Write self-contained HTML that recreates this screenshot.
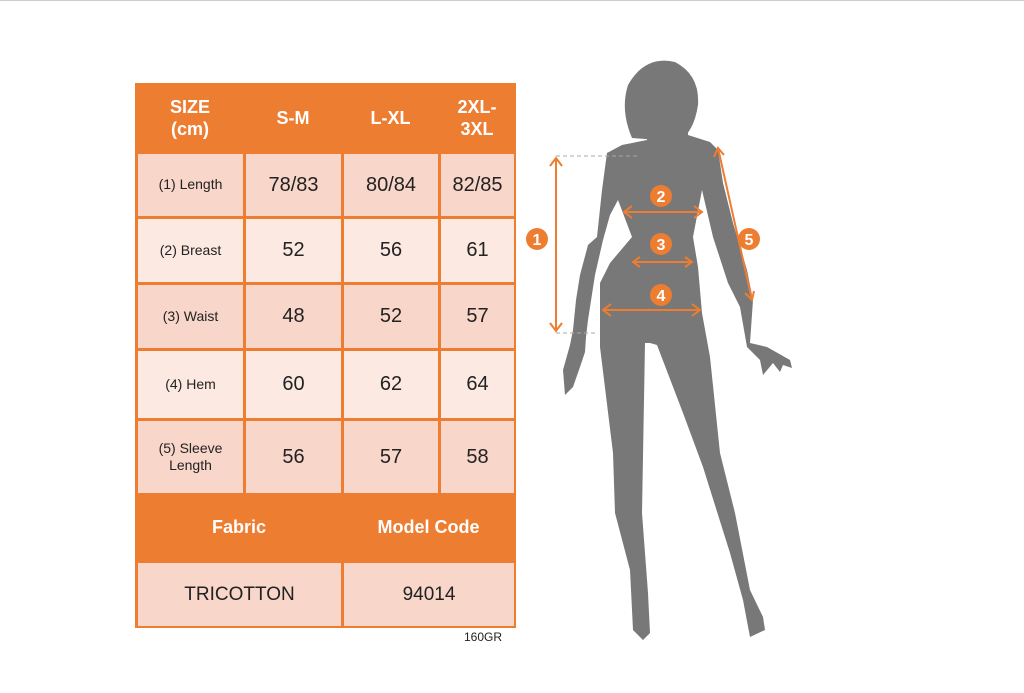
<!DOCTYPE html>
<html><head><meta charset="utf-8"><style>
body{margin:0;width:1024px;height:693px;background:#fff;position:relative;overflow:hidden;font-family:"Liberation Sans",sans-serif}
.c{position:absolute;display:flex;align-items:center;justify-content:center;text-align:center;line-height:1.25}
.h{color:#fff;font-weight:bold;font-size:18px}
.a{background:#F8D6CA}.b{background:#FCE9E2}
.l{font-size:14px;color:#222}.n{font-size:20px;color:#222}
</style></head><body>
<div style="position:absolute;left:0;top:0;width:1024px;height:1px;background:#ccc"></div>
<div style="position:absolute;left:135px;top:83px;width:381px;height:545px;background:#ED7D31"></div>
<div class="c h" style="left:136px;top:84px;width:108px;height:68px">SIZE<br>(cm)</div>
<div class="c h" style="left:244px;top:84px;width:98px;height:68px">S-M</div>
<div class="c h" style="left:342px;top:84px;width:97px;height:68px">L-XL</div>
<div class="c h" style="left:439px;top:84px;width:76px;height:68px">2XL-<br>3XL</div>
<div id="rows"></div>
<div class="c h" style="left:136px;top:494px;width:206px;height:67px">Fabric</div>
<div class="c h" style="left:342px;top:494px;width:173px;height:67px">Model Code</div>
<div class="c a n" style="left:138px;top:563px;width:203px;height:63px;font-size:19px">TRICOTTON</div>
<div class="c a n" style="left:344px;top:563px;width:170px;height:63px;font-size:19px">94014</div>
<div style="position:absolute;left:464px;top:630px;font-size:12px;color:#222">160GR</div>
<script>
var rows=[[152,217,"(1) Length","78/83","80/84","82/85","a"],[217,283,"(2) Breast","52","56","61","b"],[283,349,"(3) Waist","48","52","57","a"],[349,419,"(4) Hem","60","62","64","b"],[419,494,"(5) Sleeve<br>Length","56","57","58","a"]];
var cols=[136,244,342,439,515],h="";
rows.forEach(function(r){for(var i=0;i<4;i++){h+='<div class="c '+r[6]+' '+(i?'n':'l')+'" style="left:'+(cols[i]+2)+'px;top:'+(r[0]+2)+'px;width:'+(cols[i+1]-cols[i]-3)+'px;height:'+(r[1]-r[0]-3)+'px">'+r[2+i]+'</div>';}});
document.getElementById("rows").innerHTML=h;
</script>
<svg style="position:absolute;left:0;top:0" width="1024" height="693">
<g fill="#787878">
<path d="M632 138 Q620 110 628 85 Q645 55 675 62 Q700 75 698 105 Q695 125 686 135 L660 140 Z"/>
<path d="M647 128 L688 128 L688 135 L710 142 L718 150 L723 183 L733 223 L747 270 L753 300 L750 343 L767 347 L790 360 L792 368 L783 365 L780 372 L773 363 L763 375 L760 360 L747 347 L740 307 L728 283 L713 237 L702 190 L693 237 L698 267 L702 313 L710 357 L720 453 L735 513 L750 590 L763 617 L765 630 L750 637 L743 600 L730 553 L703 467 L683 413 L657 345 L650 343 L645 343 L642 513 L648 593 L650 633 L643 640 L633 630 L630 570 L615 513 L613 453 L600 347 L600 313 L600 283 L610 263 L632 237 L618 200 L610 215 L603 240 L595 275 L588 320 L586 337 L585 352 L580 367 L573 387 L565 395 L563 370 L570 345 L573 330 L576 300 L580 275 L588 245 L597 237 L602 190 L607 153 L622 145 L647 140 Z"/>
</g>
<g stroke="#aaa" stroke-dasharray="4,3" stroke-width="1"><line x1="556" y1="156" x2="640" y2="156"/><line x1="556" y1="333" x2="595" y2="333"/></g>
<g stroke="#ED7D31" stroke-width="2" fill="none">
<line x1="556" y1="158" x2="556" y2="331"/><path d="M550 166 L556 158 L562 166 M550 323 L556 331 L562 323"/>
<line x1="624" y1="212" x2="702" y2="212"/><path d="M632 206 L624 212 L632 218 M694 206 L702 212 L694 218"/>
<line x1="633" y1="262" x2="692" y2="262"/><path d="M640 257 L633 262 L640 267 M685 257 L692 262 L685 267"/>
<line x1="603" y1="310" x2="700" y2="310"/><path d="M611 304 L603 310 L611 316 M692 304 L700 310 L692 316"/>
<line x1="718" y1="148" x2="752" y2="300"/><path d="M714 157 L718 148 L724 155 M745 293 L752 300 L754 291"/>
</g>
<g fill="#ED7D31"><circle cx="537" cy="239" r="11"/><circle cx="661" cy="196" r="11"/><circle cx="661" cy="244" r="11"/><circle cx="661" cy="295" r="11"/><circle cx="749" cy="239" r="11"/></g>
<g fill="#fff" font-family="Liberation Sans,sans-serif" font-size="16" font-weight="bold" text-anchor="middle">
<text x="537" y="245">1</text><text x="661" y="202">2</text><text x="661" y="250">3</text><text x="661" y="301">4</text><text x="749" y="245">5</text></g>
</svg>
</body></html>
